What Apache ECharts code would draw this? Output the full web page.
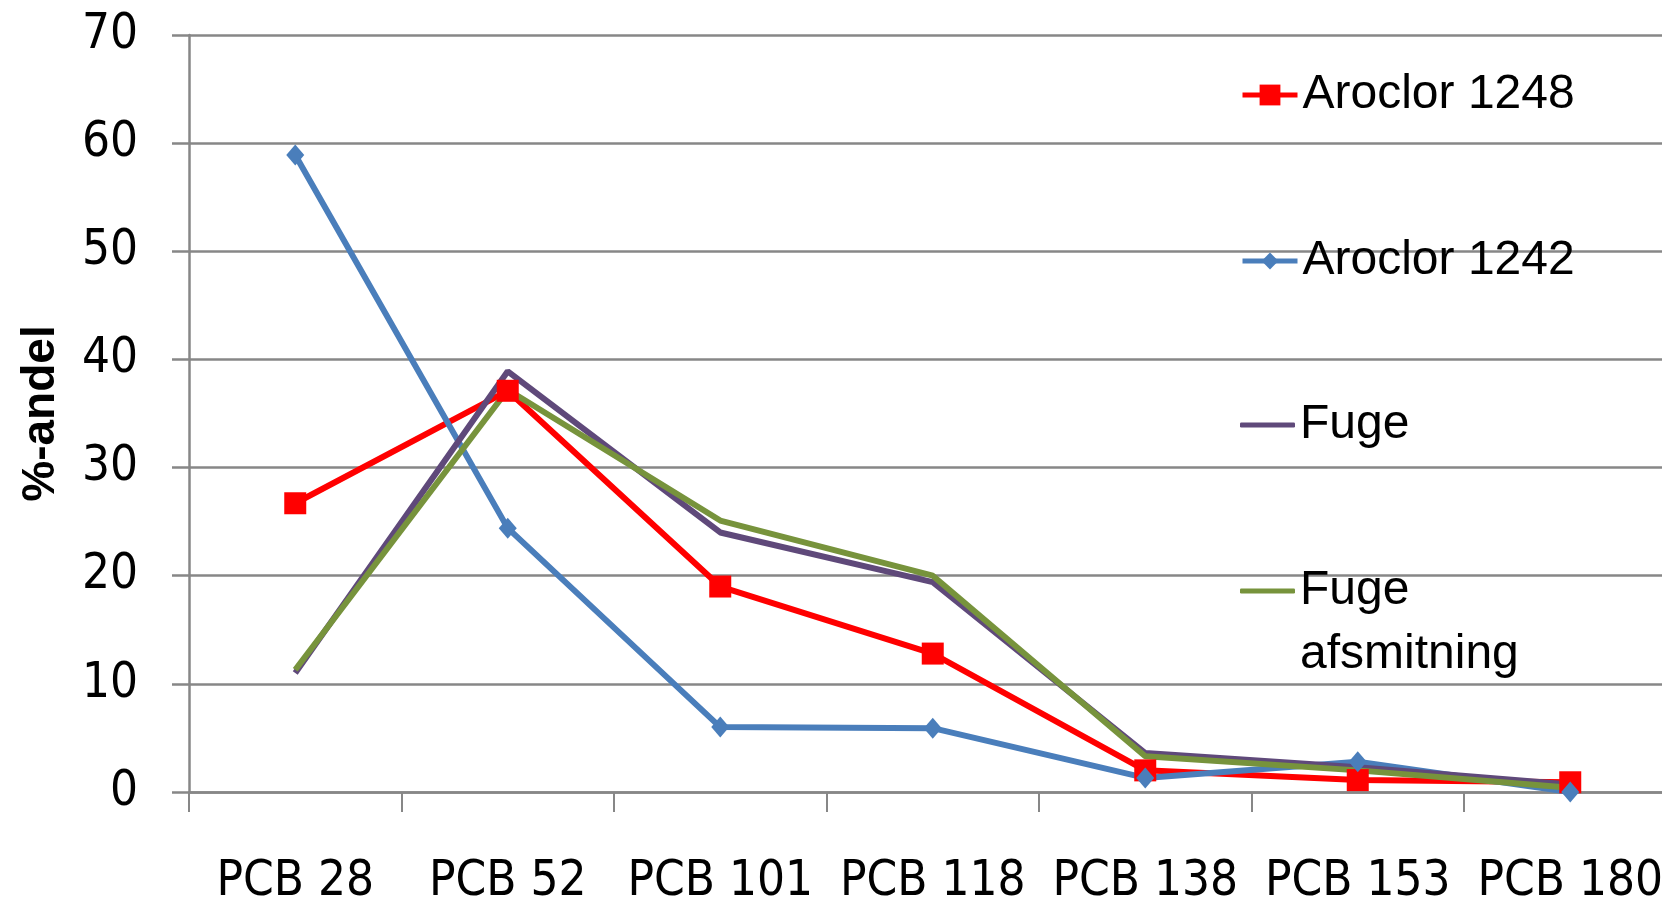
<!DOCTYPE html>
<html>
<head>
<meta charset="utf-8">
<script src="https://cdn.jsdelivr.net/npm/echarts@6/dist/echarts.min.js"></script>
<style>
html,body{margin:0;padding:0;background:#fff;}
#chart{width:1662px;height:899px;}
</style>
</head>
<body>
<div id="chart"></div>
<script>
const categories = ['PCB 28','PCB 52','PCB 101','PCB 118','PCB 138','PCB 153','PCB 180'];
const aroclor1248 = [26.7, 37.1, 19.0, 12.8, 2.0, 1.1, 0.9];
const aroclor1242 = [58.9, 24.4, 6.0, 5.9, 1.3, 2.8, 0.0];
const fuge = [11.0, 38.9, 24.0, 19.4, 3.6, 2.3, 0.7];
const fugeAfsmitning = [11.3, 37.2, 25.1, 20.0, 3.3, 2.0, 0.4];
const yTicks = { min: 0, max: 70, interval: 10 };

const axisFont = '"Liberation Sans Narrow", "DejaVu Sans Condensed", "Liberation Sans", sans-serif';
const legendFont = '"Liberation Sans", sans-serif';
const gridGray = '#878787';

function legendAt(name, top, lineHeight, opts) {
  opts = opts || {};
  const item = opts.icon ? { name: name, icon: opts.icon } : { name: name };
  return {
    data: [item],
    left: 1240,
    top: top,
    orient: 'vertical',
    padding: 0,
    itemWidth: 55,
    itemHeight: opts.itemHeight || 26,
    selectedMode: false,
    lineStyle: { width: 5 },
    formatter: opts.formatter || '{name}',
    textStyle: { fontFamily: legendFont, fontSize: 48, color: '#000', lineHeight: lineHeight }
  };
}

const chart = echarts.init(document.getElementById('chart'), null, { renderer: 'canvas' });
chart.setOption({
  animation: false,
  backgroundColor: '#fff',
  grid: { left: 189, top: 35, width: 1487.5, bottom: 107, containLabel: false, outerBoundsMode: 'none' },
  legend: [
    legendAt('Aroclor 1248', 67, 56),
    legendAt('Aroclor 1242', 233, 56, { itemHeight: 21 }),
    legendAt('Fuge', 397, 56, { icon: 'roundRect', itemHeight: 5 }),
    legendAt('Fuge afsmitning', 495, 64, { icon: 'roundRect', itemHeight: 5, formatter: function () { return ' \nFuge\nafsmitning'; } })
  ],
  xAxis: {
    type: 'category',
    data: categories,
    boundaryGap: true,
    axisLine: { show: true, lineStyle: { color: gridGray, width: 2.5 } },
    axisTick: { show: true, length: 20, alignWithLabel: false, lineStyle: { color: gridGray, width: 2 } },
    axisLabel: { interval: 0, margin: 66, fontFamily: axisFont, fontSize: 49, color: '#000' },
    splitLine: { show: false }
  },
  yAxis: {
    type: 'value',
    min: yTicks.min,
    max: yTicks.max,
    interval: yTicks.interval,
    name: '%-andel',
    nameLocation: 'middle',
    nameGap: 125,
    nameTextStyle: { fontFamily: legendFont, fontWeight: 'bold', fontSize: 46, color: '#000' },
    axisLine: { show: true, lineStyle: { color: gridGray, width: 2.5 } },
    axisTick: { show: true, length: 17, lineStyle: { color: gridGray, width: 2.5 } },
    axisLabel: { margin: 51, fontFamily: axisFont, fontSize: 49, color: '#000' },
    splitLine: { show: true, lineStyle: { color: gridGray, width: 2.5 } }
  },
  series: [
    {
      name: 'Aroclor 1248', type: 'line', data: aroclor1248,
      symbol: 'rect', symbolSize: 22,
      lineStyle: { color: '#ff0000', width: 6 },
      itemStyle: { color: '#ff0000' }
    },
    {
      name: 'Aroclor 1242', type: 'line', data: aroclor1242,
      symbol: 'diamond', symbolSize: [18, 21],
      lineStyle: { color: '#4a7ebb', width: 6 },
      itemStyle: { color: '#4a7ebb' }
    },
    {
      name: 'Fuge', type: 'line', data: fuge,
      symbol: 'none',
      lineStyle: { color: '#5f497a', width: 6 },
      itemStyle: { color: '#5f497a' }
    },
    {
      name: 'Fuge afsmitning', type: 'line', data: fugeAfsmitning,
      symbol: 'none',
      lineStyle: { color: '#77933c', width: 6 },
      itemStyle: { color: '#77933c' }
    }
  ]
});
</script>
</body>
</html>
